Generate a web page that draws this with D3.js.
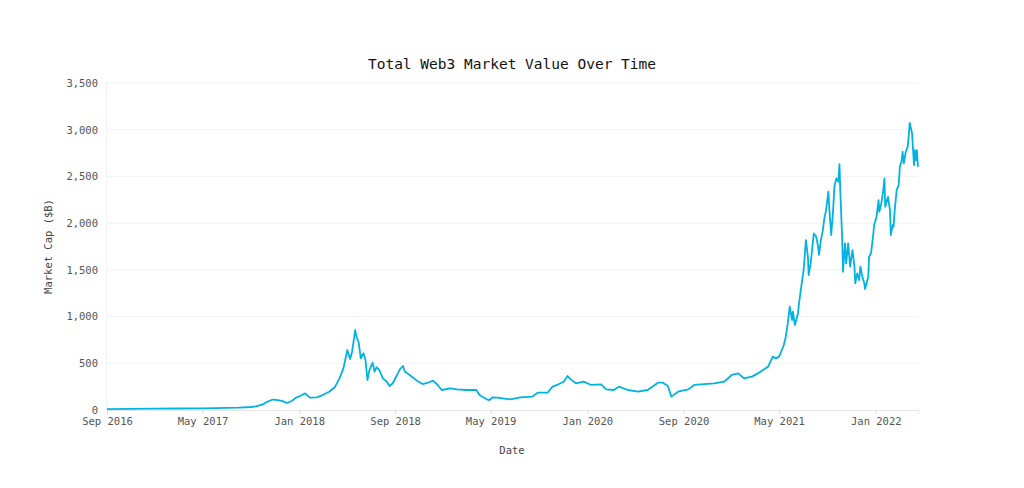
<!DOCTYPE html>
<html lang="en">
<head>
    <meta charset="UTF-8" />
    <title>Total Web3 Market Value Over Time</title>
    <script src="https://d3js.org/d3.v7.min.js"></script>
    <style>
        body { margin: 0; background: #fff; }
        text { font-family: "DejaVu Sans Mono", "Liberation Mono", monospace; }
    </style>
</head>
<body>
    <script>
        // market cap, $B
        var dates = [
            "2016-09-01", "2016-11-01", "2017-01-01", "2017-03-01", "2017-05-01", "2017-07-01", "2017-08-01",
            "2017-09-01", "2017-09-13", "2017-10-01", "2017-10-13", "2017-10-26", "2017-11-08", "2017-11-20",
            "2017-12-01", "2017-12-13", "2017-12-23", "2018-01-03", "2018-01-16", "2018-01-28", "2018-02-15",
            "2018-03-01", "2018-03-18", "2018-04-01", "2018-04-13", "2018-04-23", "2018-05-03", "2018-05-10",
            "2018-05-15", "2018-05-23", "2018-05-25", "2018-06-01", "2018-06-06", "2018-06-13", "2018-06-18",
            "2018-06-23", "2018-06-28", "2018-07-06", "2018-07-11", "2018-07-16", "2018-07-23", "2018-08-01",
            "2018-08-11", "2018-08-18", "2018-08-26", "2018-09-06", "2018-09-13", "2018-09-21", "2018-09-26",
            "2018-10-08", "2018-10-26", "2018-11-10", "2018-11-23", "2018-12-06", "2018-12-18", "2018-12-28",
            "2019-01-18", "2019-02-05", "2019-03-01", "2019-03-26", "2019-04-03", "2019-04-21", "2019-04-28",
            "2019-05-06", "2019-05-18", "2019-06-20", "2019-07-16", "2019-08-15", "2019-08-28", "2019-09-22",
            "2019-10-05", "2019-10-20", "2019-11-02", "2019-11-12", "2019-11-20", "2019-12-03", "2019-12-23",
            "2020-01-11", "2020-02-05", "2020-02-18", "2020-03-08", "2020-03-21", "2020-04-13", "2020-05-08",
            "2020-06-02", "2020-06-28", "2020-07-11", "2020-07-23", "2020-08-01", "2020-08-18", "2020-09-13",
            "2020-09-28", "2020-10-23", "2020-11-18", "2020-12-13", "2021-01-01", "2021-01-18", "2021-02-01",
            "2021-02-21", "2021-03-08", "2021-03-15", "2021-04-03", "2021-04-15", "2021-04-23", "2021-05-01",
            "2021-05-08", "2021-05-13", "2021-05-18", "2021-05-23", "2021-05-28", "2021-06-03", "2021-06-05",
            "2021-06-10", "2021-06-18", "2021-06-20", "2021-06-25", "2021-07-01", "2021-07-03", "2021-07-08",
            "2021-07-13", "2021-07-15", "2021-07-20", "2021-07-28", "2021-08-03", "2021-08-08", "2021-08-10",
            "2021-08-15", "2021-08-20", "2021-08-23", "2021-08-28", "2021-09-03", "2021-09-05", "2021-09-10",
            "2021-09-15", "2021-09-18", "2021-09-23", "2021-09-28", "2021-10-01", "2021-10-03", "2021-10-08",
            "2021-10-10", "2021-10-15", "2021-10-18", "2021-10-23", "2021-10-28", "2021-11-03", "2021-11-08",
            "2021-11-10", "2021-11-15", "2021-11-20", "2021-11-23", "2021-11-28", "2021-12-03", "2021-12-05",
            "2021-12-13", "2021-12-15", "2021-12-20", "2021-12-25", "2021-12-28", "2022-01-03", "2022-01-08",
            "2022-01-10", "2022-01-15", "2022-01-20", "2022-01-23", "2022-01-25", "2022-02-01", "2022-02-06",
            "2022-02-08", "2022-02-13", "2022-02-15", "2022-02-18", "2022-02-23", "2022-02-28", "2022-03-01",
            "2022-03-03", "2022-03-08", "2022-03-10", "2022-03-13", "2022-03-18", "2022-03-23", "2022-03-25",
            "2022-03-28", "2022-04-03", "2022-04-05", "2022-04-08", "2022-04-10", "2022-04-13", "2022-04-15",
            "2022-04-18"
        ];
        var marketCap = [
            10, 12, 14, 16, 18, 22, 25,
            32, 38, 60, 90, 112, 105, 95,
            75, 96, 130, 150, 178, 132, 136,
            160, 196, 243, 339, 446, 642, 546,
            624, 856, 802, 717, 553, 607, 535,
            321, 428, 506, 410, 457, 428, 339,
            303, 257, 286, 375, 435, 471, 410,
            375, 314, 278, 292, 314, 268, 214,
            232, 221, 214, 214, 160, 114, 107,
            136, 132, 114, 136, 143, 185, 185,
            250, 275, 303, 364, 328, 286, 303,
            268, 275, 221, 214, 250, 214, 196,
            214, 292, 292, 257, 143, 196, 221,
            268, 278, 286, 303, 375, 392, 339,
            357, 392, 410, 464, 571, 553, 571,
            642, 696, 785, 927, 1105, 963, 1052,
            910, 1034, 1124, 1284, 1462, 1534, 1819,
            1640, 1445, 1569, 1890, 1855, 1747, 1659,
            1819, 1926, 2033, 2140, 2336, 2175, 1873,
            2140, 2389, 2479, 2443, 2632, 2354, 1819,
            1480, 1784, 1569, 1784, 1534, 1712, 1534,
            1356, 1462, 1391, 1534, 1427, 1356, 1295,
            1427, 1640, 1677, 1855, 1980, 2069, 2247,
            2122, 2211, 2354, 2479, 2175, 2282, 2140,
            1873, 1980, 1961, 2140, 2354, 2408, 2461,
            2604, 2675, 2764, 2640, 2764, 2818, 2907,
            3074, 2960, 2818, 2621, 2782, 2675, 2782,
            2604
        ];
        var xTickDates = ["2016-09-01", "2017-05-01", "2018-01-01", "2018-09-01", "2019-05-01",
            "2020-01-01", "2020-09-01", "2021-05-01", "2022-01-01"];
        var yTicks = [0, 500, 1000, 1500, 2000, 2500, 3000, 3500];

        var w = 1024;
        var h = 488;
        var margin = { top: 83, right: 106, bottom: 78, left: 107 };

        var parse = d3.timeParse("%Y-%m-%d");
        var dataset = dates.map(function (d, i) {
            return [parse(d), marketCap[i]];
        });

        var xScale = d3.scaleTime()
            .domain(d3.extent(dataset, function (d) { return d[0]; }))
            .range([margin.left, w - margin.right]);

        var yScale = d3.scaleLinear()
            .domain([0, 3500])
            .range([h - margin.bottom, margin.top]);

        var svg = d3.select("body")
            .append("svg")
            .attr("width", w)
            .attr("height", h);

        // gridlines
        svg.append("g")
            .selectAll("line")
            .data(yTicks.slice(1))
            .enter()
            .append("line")
            .attr("x1", margin.left)
            .attr("x2", w - margin.right)
            .attr("y1", function (d) { return yScale(d); })
            .attr("y2", function (d) { return yScale(d); })
            .attr("stroke", "#f2f2f2")
            .attr("stroke-width", 1);

        svg.append("line")
            .attr("x1", margin.left - 0.5)
            .attr("x2", margin.left - 0.5)
            .attr("y1", margin.top)
            .attr("y2", h - margin.bottom)
            .attr("stroke", "#f2f2f2");

        var xAxis = d3.axisBottom(xScale)
            .tickValues(xTickDates.map(parse))
            .tickFormat(d3.timeFormat("%b %Y"))
            .tickSize(4)
            .tickPadding(4);

        var gx = svg.append("g")
            .attr("class", "x axis")
            .attr("transform", "translate(0," + (h - margin.bottom) + ")")
            .call(xAxis);
        gx.select(".domain").attr("stroke", "#e6e6e6");
        gx.selectAll(".tick line").attr("stroke", "#dcdcdc");
        gx.selectAll("text")
            .style("font-size", "10.5px")
            .style("fill", "#555")
            .attr("font-family", null);

        var yAxis = d3.axisLeft(yScale)
            .tickValues(yTicks)
            .tickFormat(d3.format(","))
            .tickSize(0)
            .tickPadding(9);

        var gy = svg.append("g")
            .attr("class", "y axis")
            .attr("transform", "translate(" + margin.left + ",0)")
            .call(yAxis);
        gy.select(".domain").remove();
        gy.selectAll("text")
            .style("font-size", "10.5px")
            .style("fill", "#555")
            .attr("font-family", null);

        var line = d3.line()
            .x(function (d) { return xScale(d[0]); })
            .y(function (d) { return yScale(d[1]); });

        svg.append("path")
            .datum(dataset)
            .attr("d", line)
            .attr("fill", "none")
            .attr("stroke", "#00b3e3")
            .attr("stroke-width", 1.8)
            .attr("stroke-linejoin", "round");

        svg.append("text")
            .attr("x", w / 2)
            .attr("y", 69)
            .attr("text-anchor", "middle")
            .style("font-size", "14.5px")
            .style("fill", "#111")
            .text("Total Web3 Market Value Over Time");

        svg.append("text")
            .attr("x", w / 2)
            .attr("y", 454)
            .attr("text-anchor", "middle")
            .style("font-size", "10.5px")
            .style("fill", "#444")
            .text("Date");

        svg.append("text")
            .attr("transform", "translate(52," + ((margin.top + h - margin.bottom) / 2) + ") rotate(-90)")
            .attr("text-anchor", "middle")
            .style("font-size", "10.5px")
            .style("fill", "#444")
            .text("Market Cap ($B)");
    </script>
</body>
</html>
